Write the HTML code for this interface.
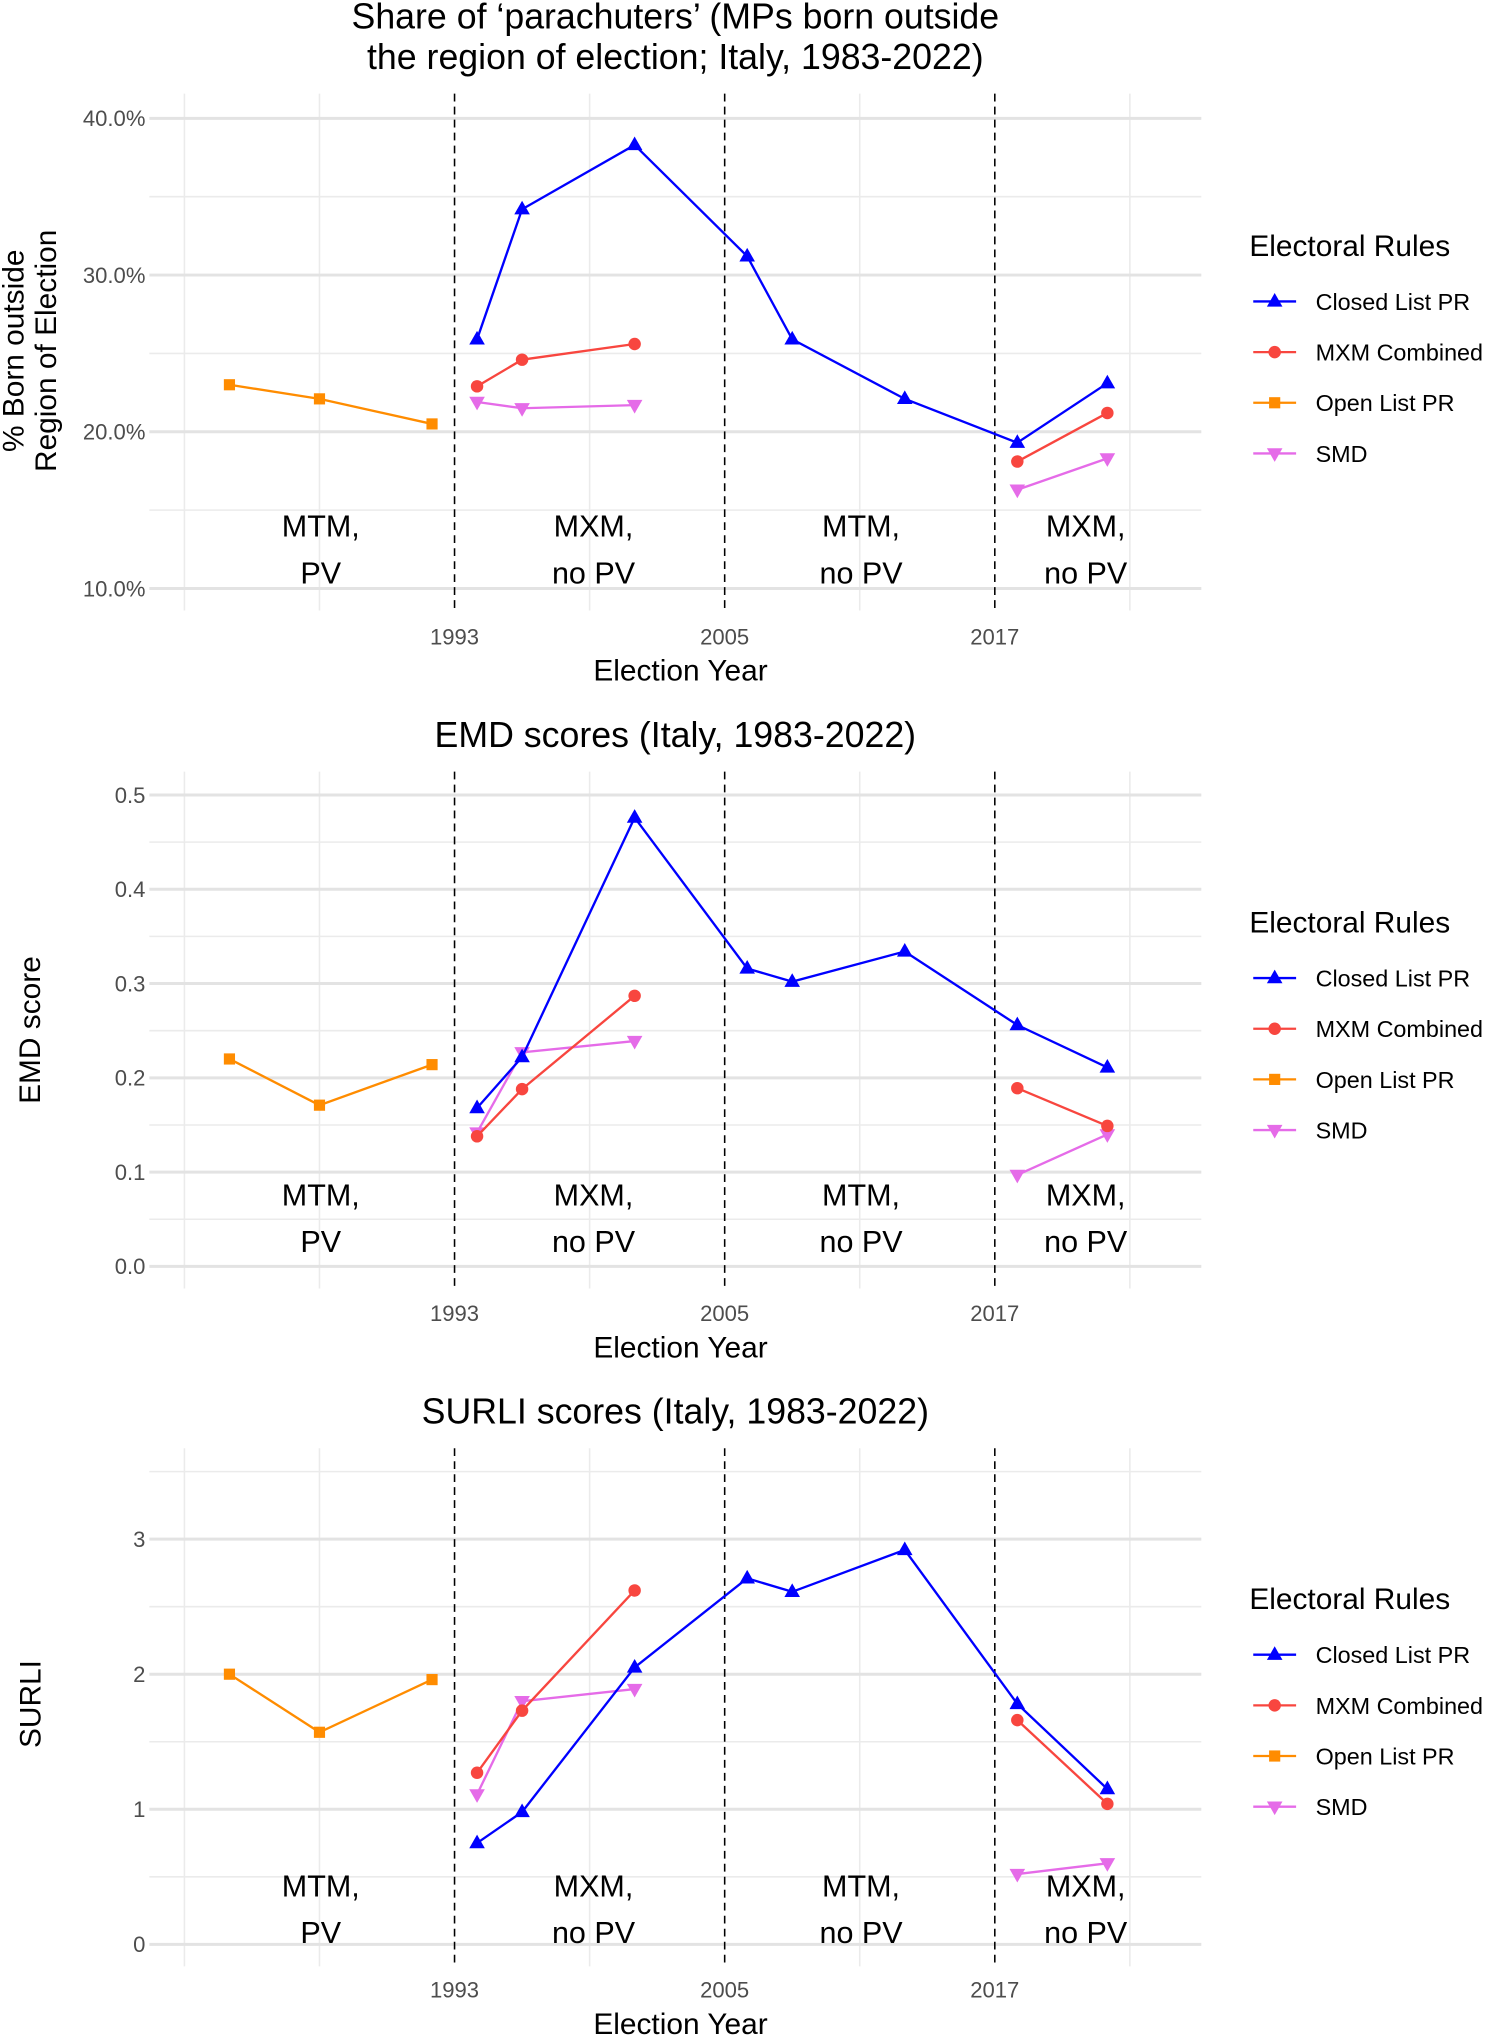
<!DOCTYPE html>
<html><head><meta charset="utf-8"><style>
html,body{margin:0;padding:0;background:#fff;}
svg{display:block;font-family:"Liberation Sans",sans-serif;}
</style></head><body>
<svg id="chart" width="1500" height="2038" viewBox="0 0 1155 1569" xmlns="http://www.w3.org/2000/svg"></svg>
<script>
const years = [1994,1996,2001,2006,2008,2013,2018,2022];
const openYears = [1983,1987,1992];
const mxmYears = [1994,1996,2001,2018,2022];
const smdYears = [1994,1996,2001,2018,2022];
const p1Closed = [25.9,34.2,38.3,31.2,25.9,22.1,19.3,23.1];
const p1Mxm = [22.9,24.6,25.6,18.1,21.2];
const p1Open = [23.0,22.1,20.5];
const p1Smd = [21.9,21.5,21.7,16.3,18.3];
const p2Closed = [0.168,0.222,0.476,0.316,0.302,0.334,0.256,0.211];
const p2Mxm = [0.138,0.188,0.287,0.189,0.149];
const p2Open = [0.220,0.171,0.214];
const p2Smd = [0.142,0.227,0.239,0.097,0.140];
const p3Closed = [0.75,0.98,2.05,2.71,2.61,2.92,1.78,1.15];
const p3Mxm = [1.27,1.73,2.62,1.66,1.04];
const p3Open = [2.00,1.57,1.96];
const p3Smd = [1.11,1.80,1.89,0.52,0.60];
const p1Ticks = [10,20,30,40];
const p1TickLabels = ["10.0%","20.0%","30.0%","40.0%"];
const p2Ticks = [0,0.1,0.2,0.3,0.4,0.5];
const p2TickLabels = ["0.0","0.1","0.2","0.3","0.4","0.5"];
const p3Ticks = [0,1,2,3];
const p3TickLabels = ["0","1","2","3"];
const xTicks = [1993,2005,2017];
const seriesNames = ["Closed List PR","MXM Combined","Open List PR","SMD"];

const svg = document.getElementById('chart');
const NS = 'http://www.w3.org/2000/svg';
function mk(tag, attrs, parent, text){
  const e = document.createElementNS(NS, tag);
  for (const k in attrs) e.setAttribute(k, attrs[k]);
  if (text !== undefined) e.textContent = text;
  (parent||svg).appendChild(e);
  return e;
}
const X0 = 115, X1 = 925;
function xs(yr){ return 350 + (yr-1993)*208/12; }
const colors = {closed:'#0000ff', mxm:'#f8463f', open:'#ff8c00', smd:'#e56be8'};

function marker(g, kind, x, y, color){
  let m;
  if (kind==='tri') m = mk('polygon',{points:`${x},${y-6.5} ${x-6},${y+4} ${x+6},${y+4}`,fill:color},g);
  else if (kind==='circ') m = mk('circle',{cx:x,cy:y,r:4.8,fill:color},g);
  else if (kind==='sq') m = mk('rect',{x:x-4.3,y:y-4.3,width:8.6,height:8.6,fill:color},g);
  else m = mk('polygon',{points:`${x},${y+6.5} ${x-6},${y-4} ${x+6},${y-4}`,fill:color},g);
  
  
}

function panel(cfg){
  const g = mk('g',{});
  
  
  const ys = v => cfg.y0px + (v - cfg.v0)*(cfg.y1px - cfg.y0px)/(cfg.v1 - cfg.v0);
  cfg.title.forEach((t,i)=>{
    const e = mk('text',{x:520,y:cfg.titleY+i*31,'text-anchor':'middle','font-size':27.5,fill:'#000'},g,t);
     
  });
  for (let i=0;i<cfg.ticks.length-1;i++){
    const v=(cfg.ticks[i]+cfg.ticks[i+1])/2;
    mk('line',{x1:X0,x2:X1,y1:ys(v),y2:ys(v),stroke:'#ebebeb','stroke-width':1.2},g);
  }
  if (cfg.extraMinor) cfg.extraMinor.forEach(v=>mk('line',{x1:X0,x2:X1,y1:ys(v),y2:ys(v),stroke:'#ebebeb','stroke-width':1.2},g));
  [1981,1987,1999,2011,2023].forEach(yr=>mk('line',{x1:xs(yr),x2:xs(yr),y1:cfg.top,y2:cfg.bottom,stroke:'#ebebeb','stroke-width':1.2},g));
  cfg.ticks.forEach((v,i)=>{
    mk('line',{x1:X0,x2:X1,y1:ys(v),y2:ys(v),stroke:'#e3e3e3','stroke-width':2.3},g);
    const t = mk('text',{x:112,y:ys(v)+6,'text-anchor':'end','font-size':17,fill:'#4d4d4d'},g,cfg.labels[i]);
     
  });
  xTicks.forEach(yr=>{
    const l = mk('line',{x1:xs(yr),x2:xs(yr),y1:cfg.top,y2:cfg.bottom,stroke:'#000','stroke-width':1.2,'stroke-dasharray':'6,4'},g);
     
    const t = mk('text',{x:xs(yr),y:cfg.xTickY,'text-anchor':'middle','font-size':17,fill:'#4d4d4d'},g,String(yr));
     
  });
  const xt = mk('text',{x:524,y:cfg.xTickY+28,'text-anchor':'middle','font-size':23,fill:'#000'},g,'Election Year');
   
  cfg.ytitle.forEach((t,i)=>{
    const x = cfg.ytitleX + i*25;
    const e = mk('text',{x:x,y:cfg.ytitleY,'text-anchor':'middle','font-size':23,fill:'#000',transform:`rotate(-90 ${x} ${cfg.ytitleY})`},g,t);
     
  });
  [[247,'MTM,','PV'],[457,'MXM,','no PV'],[663,'MTM,','no PV'],[836,'MXM,','no PV']].forEach(r=>{
    const e = mk('text',{x:r[0],y:cfg.regY,'text-anchor':'middle','font-size':23.5,fill:'#000'},g,r[1]);
     
    const e2 = mk('text',{x:r[0],y:cfg.regY+36,'text-anchor':'middle','font-size':23.5,fill:'#000'},g,r[2]);
     
  });
  function line(yrs, vals, color, kind, name, split){
    const sg = mk('g',{},g);
    
    
    const segs = split ? [yrs.slice(0,split).map((y,i)=>[y,vals[i]]), yrs.slice(split).map((y,i)=>[y,vals[i+split]])] : [yrs.map((y,i)=>[y,vals[i]])];
    segs.forEach(s=>{
      const p = mk('polyline',{points:s.map(d=>xs(d[0])+','+ys(d[1])).join(' '),fill:'none',stroke:color,'stroke-width':1.8},sg);
       
    });
    yrs.forEach((y,i)=>marker(sg,kind,xs(y),ys(vals[i]),color));
  }
  line(openYears, cfg.open, colors.open, 'sq', 'open-list-pr-series');
  line(smdYears, cfg.smd, colors.smd, 'dtri', 'smd-series', 3);
  line(mxmYears, cfg.mxm, colors.mxm, 'circ', 'mxm-combined-series', 3);
  line(years, cfg.closed, colors.closed, 'tri', 'closed-list-pr-series');
  const lg = mk('g',{},g);
   
  const lt = mk('text',{x:962,y:cfg.legY,'font-size':23,fill:'#000'},lg,'Electoral Rules');
   
  const kinds=['tri','circ','sq','dtri'], cols=[colors.closed,colors.mxm,colors.open,colors.smd];
  seriesNames.forEach((n,i)=>{
    const y = cfg.legY + 35 + i*39;
    const eg = mk('g',{},lg);
     
    mk('line',{x1:965,x2:998,y1:y,y2:y,stroke:cols[i],'stroke-width':1.8},eg);
    marker(eg,kinds[i],981.5,y,cols[i]);
    mk('text',{x:1013,y:y+6.5,'font-size':18,fill:'#000'},eg,n);
  });
}

panel({name:'parachuters-panel', title:['Share of \u2018parachuters\u2019 (MPs born outside',' the region of election; Italy, 1983-2022)'], titleY:22,
  ticks:p1Ticks, labels:p1TickLabels, v0:10, v1:40, y0px:453, y1px:91, top:72, bottom:470, extraMinor:[],
  xTickY:496, ytitle:['% Born outside','Region of Election'], ytitleX:18, ytitleY:270, regY:413, legY:197,
  closed:p1Closed, mxm:p1Mxm, open:p1Open, smd:p1Smd});
panel({name:'emd-panel', title:['EMD scores (Italy, 1983-2022)'], titleY:575,
  ticks:p2Ticks, labels:p2TickLabels, v0:0, v1:0.5, y0px:975, y1px:612, top:594, bottom:992, extraMinor:[],
  xTickY:1017, ytitle:['EMD score'], ytitleX:31, ytitleY:793, regY:928, legY:718,
  closed:p2Closed, mxm:p2Mxm, open:p2Open, smd:p2Smd});
panel({name:'surli-panel', title:['SURLI scores (Italy, 1983-2022)'], titleY:1096,
  ticks:p3Ticks, labels:p3TickLabels, v0:0, v1:3, y0px:1497, y1px:1185, top:1115, bottom:1514, extraMinor:[3.5],
  xTickY:1538, ytitle:['SURLI'], ytitleX:31, ytitleY:1312, regY:1460, legY:1239,
  closed:p3Closed, mxm:p3Mxm, open:p3Open, smd:p3Smd});
</script>
</body></html>
